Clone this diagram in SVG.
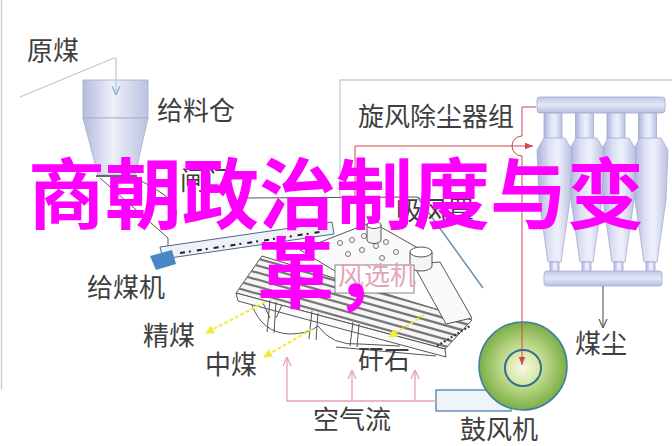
<svg xmlns="http://www.w3.org/2000/svg" width="672" height="446" viewBox="0 0 672 446">
<style>
.lbl{font-family:"Noto Sans CJK SC","Noto Sans",sans-serif;fill:#3e3e3e;font-size:26px}
.title{font-family:"Noto Sans CJK SC","Noto Sans",sans-serif;font-weight:700;font-size:77px;fill:#ff00ff;text-anchor:middle}
.mech{fill:none;stroke:#555;stroke-width:1;stroke-linejoin:round}
.red{fill:none;stroke:#d04848;stroke-width:1}
.pink{fill:none;stroke:#e8a0b0;stroke-width:1.3}
.yel{fill:none;stroke:#f2ea3a;stroke-width:2;stroke-dasharray:4 2}
.frame{fill:none;stroke:#c4d2d6;stroke-width:1.4}
.cyc{fill:url(#gCyc);stroke:#a4abd4;stroke-width:0.8}
</style>
<defs>
<linearGradient id="gHop" x1="0" y1="0" x2="1" y2="0">
<stop offset="0" stop-color="#b4bbdc"/><stop offset="0.45" stop-color="#eef0fa"/><stop offset="1" stop-color="#bcc3e0"/>
</linearGradient>
<linearGradient id="gCyc" x1="0" y1="0" x2="1" y2="0">
<stop offset="0" stop-color="#a9b1da"/><stop offset="0.35" stop-color="#dde1f4"/><stop offset="0.6" stop-color="#eef0fa"/><stop offset="1" stop-color="#b9c0e2"/>
</linearGradient>
<linearGradient id="gPlate" x1="0" y1="0" x2="0" y2="1">
<stop offset="0" stop-color="#c3c8e6"/><stop offset="0.5" stop-color="#e4e7f6"/><stop offset="1" stop-color="#b7bde0"/>
</linearGradient>
<radialGradient id="gFan" cx="0.5" cy="0.5" r="0.5">
<stop offset="0" stop-color="#f2f6d4"/><stop offset="0.5" stop-color="#bcd888"/><stop offset="1" stop-color="#7cae46"/>
</radialGradient>
<radialGradient id="gFanIn" cx="0.5" cy="0.5" r="0.5">
<stop offset="0" stop-color="#f6f8e2"/><stop offset="1" stop-color="#d4e6a2"/>
</radialGradient>
<clipPath id="deckClip"><path d="M236,293 L262,256 L472,320 L445,349 Z"/></clipPath>
<marker id="aRed" viewBox="0 0 10 10" refX="10" refY="5" markerWidth="8" markerHeight="8" orient="auto" markerUnits="userSpaceOnUse"><path d="M0,1 L10,5 L0,9 z" fill="#d04848"/></marker>
<marker id="aPink" viewBox="0 0 10 10" refX="10" refY="5" markerWidth="10" markerHeight="10" orient="auto" markerUnits="userSpaceOnUse"><path d="M1,1 L10,5 L1,9" fill="none" stroke="#e8a0b0" stroke-width="1.3"/></marker>
<marker id="aGrey" viewBox="0 0 10 10" refX="10" refY="5" markerWidth="10" markerHeight="10" orient="auto" markerUnits="userSpaceOnUse"><path d="M1,1 L10,5 L1,9" fill="none" stroke="#666" stroke-width="1.3"/></marker>
<marker id="aBlue" viewBox="0 0 10 10" refX="10" refY="5" markerWidth="10" markerHeight="10" orient="auto" markerUnits="userSpaceOnUse"><path d="M1,1 L10,5 L1,9" fill="none" stroke="#8ab0d0" stroke-width="1.3"/></marker>
<marker id="aYel" viewBox="0 0 10 10" refX="9" refY="5" markerWidth="9" markerHeight="9" orient="auto" markerUnits="userSpaceOnUse"><path d="M0,0 L10,5 L0,10 z" fill="#f2ea3a"/></marker>
</defs>
<rect width="672" height="446" fill="#ffffff"/>

<g id="frames">
<line class="frame" x1="1.5" y1="0" x2="1.5" y2="390" stroke="#dfe3e6"/>
<polyline class="frame" points="340,198 340,80 672,80"/>
</g>

<g id="hopper">
<rect x="83" y="80" width="65" height="38" fill="url(#gHop)" stroke="#a2a9cc" stroke-width="0.8"/>
<path d="M83,118 L148,118 L135,175 L98,175 Z" fill="url(#gHop)" stroke="#a2a9cc" stroke-width="0.8"/>
<line x1="96" y1="176" x2="137" y2="176" stroke="#666" stroke-width="2"/>
<path class="mech" d="M100,178 L168,238 L168,246"/>
<path class="mech" d="M135,178 Q160,190 170,200 Q182,212 172,222"/>
<text class="lbl" x="180" y="190" font-size="20">闸门</text>
</g>

<g id="feeder">
<path d="M160,247 L332,222 L334,234 L163,259 Z" fill="#eef2f8" stroke="#4a6a8a" stroke-width="1"/>
<path d="M150,256 L172,250 L176,264 L156,270 Z" fill="#4a86c5"/>
<line x1="180" y1="253" x2="320" y2="232" stroke="#222" stroke-width="2" stroke-dasharray="5 4 2 6"/>
<path d="M324,246 L334,240 L338,252 L328,256 Z" fill="#222"/>
</g>

<g id="separator">
<path class="mech" d="M240,205 Q236,198 246,198 L416,197 Q421,197 424,204"/>
<line x1="418" y1="198" x2="483" y2="288" stroke="#6a8fb0" stroke-width="1.5"/>
<path class="mech" d="M252,305 Q262,333 290,334 Q308,334 318,326"/>
<path class="mech" d="M318,326 Q332,346 360,344 L400,346"/>
<path class="mech" d="M336,347 L436,356"/>
<path d="M236,293 L262,256 L472,320 L445,349 Z" fill="#f6f6f6" stroke="#555" stroke-width="1"/>
<g clip-path="url(#deckClip)" stroke="#777" stroke-width="2.2">
<line x1="230" y1="237" x2="480" y2="307"/>
<line x1="230" y1="244" x2="480" y2="314"/>
<line x1="230" y1="251" x2="480" y2="321"/>
<line x1="230" y1="258" x2="480" y2="328"/>
<line x1="230" y1="265" x2="480" y2="335"/>
<line x1="230" y1="272" x2="480" y2="342"/>
<line x1="230" y1="279" x2="480" y2="349"/>
<line x1="230" y1="286" x2="480" y2="356"/>
<line x1="230" y1="293" x2="480" y2="363"/>
</g>
<path d="M236,293 L445,349 L446,357 L238,301 Z" fill="#fafafa" stroke="#555" stroke-width="1"/>
<path class="mech" d="M270,300 L267,332 M276,302 L274,333 M312,311 L309,339 M318,313 L316,340 M353,322 L350,346 M359,324 L357,347"/>
<path class="mech" d="M263,303 L270,318 M282,305 L276,318"/>
<path d="M300,250 L372,222 L432,256 L360,286 Z" fill="#fafafa" stroke="#555" stroke-width="1"/>
<g fill="none" stroke="#666" stroke-width="0.9">
<circle cx="340" cy="243" r="2.5"/><circle cx="352" cy="240" r="2.5"/><circle cx="364" cy="236" r="2.5"/>
<circle cx="348" cy="254" r="2.5"/><circle cx="362" cy="250" r="2.5"/><circle cx="376" cy="246" r="2.5"/>
<circle cx="386" cy="242" r="2.5"/><circle cx="396" cy="252" r="2.5"/><circle cx="382" cy="258" r="2.5"/>
</g>
<path d="M413,264 L440,262 L472,318 L446,324 Z" fill="#fafafa" stroke="#555" stroke-width="1"/>
<path d="M367,225 L367,240 A7,3.5 0 0 0 381,240 L381,225 Z" fill="#f4f4f4" stroke="#555" stroke-width="1"/>
<ellipse cx="374" cy="225" rx="7" ry="3.5" fill="#fff" stroke="#555" stroke-width="1"/>
<path d="M410,252 L410,266 A11,5 0 0 0 432,266 L432,252 Z" fill="#f4f4f4" stroke="#555" stroke-width="1"/>
<ellipse cx="421" cy="252" rx="11" ry="5" fill="#fff" stroke="#555" stroke-width="1"/>
<line x1="437" y1="346" x2="470" y2="326" stroke="#333" stroke-width="2" stroke-dasharray="2 2"/>
<rect x="335" y="265" width="79" height="28" fill="#ffffff" stroke="#666" stroke-width="0.8"/>
<text class="lbl" x="396" y="220" font-size="21">吸风罩</text>
</g>

<g id="cyclones">
<rect x="537" y="97" width="128" height="16" rx="3" fill="url(#gPlate)" stroke="#a4abd4" stroke-width="0.8"/>
<rect class="cyc" x="544" y="113" width="18" height="30"/>
<rect class="cyc" x="575.5" y="113" width="18" height="30"/>
<rect class="cyc" x="607" y="113" width="18" height="30"/>
<rect class="cyc" x="638.5" y="113" width="18" height="30"/>
<path class="cyc" d="M640,138 L661,138 L668,150 L666,200 L657,262 L644,262 L635,200 L633,150 Z"/>
<path class="cyc" d="M608,138 L629,138 L636,150 L634,200 L625,262 L612,262 L603,200 L601,150 Z"/>
<path class="cyc" d="M576,138 L597,138 L604,150 L602,200 L593,262 L580,262 L571,200 L569,150 Z"/>
<path class="cyc" d="M544,138 L565,138 L572,150 L570,200 L561,262 L548,262 L539,200 L537,150 Z"/>
<rect class="cyc" x="550" y="262" width="9" height="10"/>
<rect class="cyc" x="582" y="262" width="9" height="10"/>
<rect class="cyc" x="614" y="262" width="9" height="10"/>
<rect class="cyc" x="646" y="262" width="9" height="10"/>
<rect x="544" y="271" width="118" height="15" rx="3" fill="url(#gPlate)" stroke="#a4abd4" stroke-width="0.8"/>
</g>

<g id="fan">
<rect x="436" y="390" width="75" height="21" fill="#f0f4fa" stroke="#4a80b0" stroke-width="1.3"/>
<circle cx="523" cy="366" r="44" fill="url(#gFan)" stroke="#3f7fa0" stroke-width="1.5"/>
<circle cx="523" cy="368" r="18" fill="url(#gFanIn)" stroke="#2f6f90" stroke-width="2"/>
</g>

<g id="connectors">
<polyline points="20,97 114,58 116,58 116,95" fill="none" stroke="#b8c8d8" stroke-width="1.2" marker-end="url(#aBlue)"/>
<polyline class="red" points="355,198 355,146 533,146" marker-end="url(#aRed)"/>
<path class="red" d="M536,107 L522,107 L522,136 A10,10 0 0 0 522,156 L522,365" marker-end="url(#aRed)"/>
<line x1="603" y1="286" x2="603" y2="328" stroke="#666" stroke-width="1.2" marker-end="url(#aGrey)"/>
<line class="yel" x1="265" y1="302" x2="206" y2="333" marker-end="url(#aYel)"/>
<line class="yel" x1="312" y1="329" x2="264" y2="357" marker-end="url(#aYel)"/>
<line class="yel" x1="424" y1="315" x2="389" y2="337" marker-end="url(#aYel)"/>
<polyline class="pink" points="436,401 287,401 287,357" marker-end="url(#aPink)"/>
<line class="pink" x1="352" y1="401" x2="352" y2="370" marker-end="url(#aPink)"/>
<line class="pink" x1="415" y1="401" x2="415" y2="370" marker-end="url(#aPink)"/>
</g>

<g id="labels">
<text class="lbl" x="27" y="60" font-size="24">原煤</text>
<text class="lbl" x="157" y="120" font-size="24">给料仓</text>
<text class="lbl" x="358" y="126">旋风除尘器组</text>
<text class="lbl" x="87" y="297">给煤机</text>
<text class="lbl" x="143" y="345">精煤</text>
<text class="lbl" x="205" y="374">中煤</text>
<text class="lbl" x="313" y="429">空气流</text>
<text class="lbl" x="358" y="369" font-size="19">矸石</text>
<text class="lbl" x="338" y="285" font-size="22" style="fill:#e4a4b8">风选机</text>
<text class="lbl" x="460" y="439" font-size="25">鼓风机</text>
<text class="lbl" x="575" y="353">煤尘</text>
</g>

<g id="title">
<text class="title" x="336" y="223">商朝政治制度与变</text>
<text class="title" x="334" y="302">革，</text>
</g>
</svg>
